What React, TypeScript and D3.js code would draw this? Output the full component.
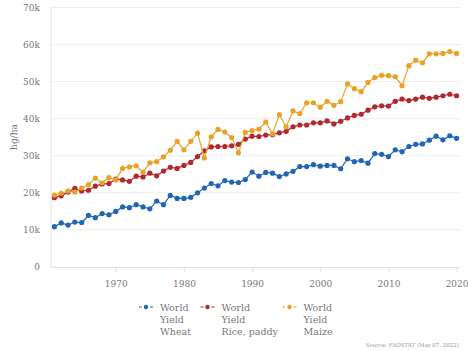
import { useEffect, useRef } from "react";
import * as d3 from "d3";

// FAOSTAT world yields, hg/ha, 1961-2020
const years = d3.range(1961, 2021);

const wheat = [
  10890, 11880, 11310, 12120, 12000, 13900, 13300, 14400, 14100, 15000,
  16200, 16000, 16800, 16200, 15700, 17800, 16800, 19300, 18500, 18500,
  18800, 20000, 21300, 22500, 21900, 23300, 22900, 22800, 23600, 25600,
  24500, 25500, 25300, 24400, 25100, 25800, 27100, 27100, 27600, 27200,
  27400, 27400, 26500, 29200, 28400, 28700, 28000, 30600, 30400, 29800,
  31600, 31100, 32500, 33100, 33200, 34200, 35300, 34300, 35400, 34700,
];

const rice = [
  18700, 19200, 20200, 21200, 20500, 20700, 21800, 22400, 22500, 23700,
  23500, 23100, 24500, 24300, 25300, 24600, 25900, 26900, 26600, 27400,
  28200, 29800, 31300, 32400, 32500, 32500, 32700, 33100, 34500, 35300,
  35200, 35600, 35700, 36200, 36600, 37800, 38300, 38300, 38900, 38900,
  39400, 38600, 39300, 40200, 40900, 41200, 42300, 43200, 43500, 43400,
  44700, 45300, 44900, 45300, 45800, 45500, 45800, 46200, 46600, 46200,
];

const maize = [
  19400, 19900, 20500, 20200, 21300, 22200, 24000, 22700, 24100, 23500,
  26600, 27000, 27300, 25600, 28100, 28400, 29700, 31500, 33900, 31600,
  33900, 36100, 29400, 35100, 37100, 36400, 34900, 30800, 36300, 36800,
  37200, 39100, 35900, 41100, 37800, 42100, 41400, 44300, 44300, 43100,
  44700, 43600, 44600, 49400, 48100, 47300, 49800, 51100, 51700, 51600,
  51300, 48900, 54300, 55800, 55100, 57500, 57500, 57600, 58100, 57600,
];

const yTicks = [0, 10000, 20000, 30000, 40000, 50000, 60000, 70000];
const xTicks = [1970, 1980, 1990, 2000, 2010, 2020];

const series = [
  { label: ["World", "Yield", "Wheat"], values: wheat, color: "#2166b4" },
  { label: ["World", "Yield", "Rice, paddy"], values: rice, color: "#b3282f" },
  { label: ["World", "Yield", "Maize"], values: maize, color: "#e9a228" },
];

export default function App() {
  const chartRef = useRef(null);

  useEffect(() => {
    const width = 468;
    const height = 351;
    const left = 51;
    const right = 460;
    const top = 7.5;
    const bottom = 267;
    const font = "DejaVu Serif, serif";

    const svg = d3
      .select(chartRef.current)
      .attr("width", width)
      .attr("height", height)
      .style("position", "absolute")
      .style("left", 0)
      .style("top", 0);
    svg.selectAll("*").remove();

    const xScale = d3.scaleLinear().domain([1960.5, 2020.5]).range([left, right]);
    const yScale = d3.scaleLinear().domain([0, 70000]).range([bottom, top]);

    // Grid lines
    svg
      .append("g")
      .selectAll("line")
      .data(yTicks.slice(1))
      .enter()
      .append("line")
      .attr("x1", left)
      .attr("x2", right)
      .attr("y1", (d) => yScale(d))
      .attr("y2", (d) => yScale(d))
      .attr("stroke", "#ececec")
      .attr("stroke-width", 1);

    // Left frame line
    svg
      .append("line")
      .attr("x1", left)
      .attr("x2", left)
      .attr("y1", top)
      .attr("y2", bottom)
      .attr("stroke", "#e4e4e4");

    // Y axis
    const yAxis = svg
      .append("g")
      .attr("transform", `translate(${left},0)`)
      .call(
        d3
          .axisLeft(yScale)
          .tickValues(yTicks)
          .tickSize(0)
          .tickPadding(11)
          .tickFormat((d) => (d === 0 ? "0" : `${+d / 1000}k`))
      );
    yAxis.select(".domain").remove();
    yAxis
      .selectAll("text")
      .style("font-family", font)
      .style("font-size", "9px")
      .attr("fill", "#777");

    // X axis
    const xAxis = svg
      .append("g")
      .attr("transform", `translate(0,${bottom})`)
      .call(
        d3
          .axisBottom(xScale)
          .tickValues(xTicks)
          .tickSize(5)
          .tickPadding(9)
          .tickFormat(d3.format("d"))
      );
    xAxis.select(".domain").attr("stroke", "#e0e0e0").attr("d", `M${left},0.5H${right}`);
    xAxis.selectAll("line").attr("stroke", "#e0e0e0");
    xAxis
      .selectAll("text")
      .style("font-family", font)
      .style("font-size", "9px")
      .attr("fill", "#777");

    // Y axis label
    svg
      .append("text")
      .attr("transform", `translate(17,137) rotate(-90)`)
      .attr("text-anchor", "middle")
      .style("font-family", font)
      .style("font-size", "9px")
      .attr("fill", "#777")
      .text("hg/ha");

    // Lines and markers
    const line = d3
      .line<number>()
      .x((_, i) => xScale(years[i]))
      .y((d) => yScale(d));

    series.forEach((s) => {
      svg
        .append("path")
        .datum(s.values)
        .attr("d", line)
        .attr("fill", "none")
        .attr("stroke", s.color)
        .attr("stroke-width", 1.2);

      svg
        .append("g")
        .selectAll("circle")
        .data(s.values)
        .enter()
        .append("circle")
        .attr("cx", (_, i) => xScale(years[i]))
        .attr("cy", (d) => yScale(d))
        .attr("r", 2.6)
        .attr("fill", s.color);
    });

    // Legend
    const legendX = [146, 207.5, 289.5];
    const legend = svg
      .append("g")
      .selectAll("g")
      .data(series)
      .enter()
      .append("g")
      .attr("transform", (_, i) => `translate(${legendX[i]},307)`);

    legend
      .append("line")
      .attr("x1", -7)
      .attr("x2", 7)
      .attr("y1", 0)
      .attr("y2", 0)
      .attr("stroke", (d) => d.color)
      .attr("stroke-width", 1.2)
      .attr("stroke-dasharray", "3,8,3");

    legend
      .append("circle")
      .attr("r", 2.2)
      .attr("fill", (d) => d.color);

    legend
      .append("text")
      .attr("x", 14)
      .attr("y", 3.5)
      .style("font-family", font)
      .style("font-size", "9.5px")
      .attr("fill", "#777")
      .selectAll("tspan")
      .data((d) => d.label)
      .enter()
      .append("tspan")
      .attr("x", 14)
      .attr("dy", (_, i) => (i === 0 ? 0 : 12))
      .text((d) => d);

    // Source note
    svg
      .append("text")
      .attr("x", 459)
      .attr("y", 347)
      .attr("text-anchor", "end")
      .style("font-family", font)
      .style("font-size", "5.5px")
      .attr("fill", "#999")
      .text("Source: FAOSTAT (Mar 07, 2022)");
  }, []);

  return <svg ref={chartRef} />;
}
